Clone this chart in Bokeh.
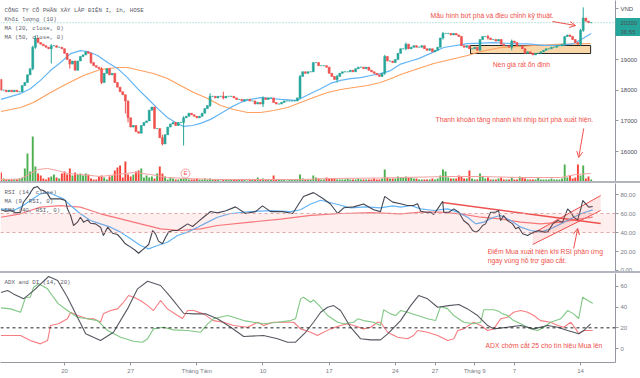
import numpy as np
from bokeh.plotting import figure
from bokeh.models import (Range1d, LinearAxis, FixedTicker, Span, BoxAnnotation,
                          Label, Arrow, OpenHead, ColumnDataSource, Div,
                          PolyAnnotation, NumeralTickFormatter, BasicTickFormatter)
from bokeh.layouts import column
from bokeh.embed import file_html
from bokeh.resources import INLINE
from bokeh.core.properties import value

# ---------------- data (hourly bars, index 0..223) ----------------
first_open = 18350
closes = [18000, 18000, 17950, 18000, 17950, 18000, 17950, 17950, 18150, 18250,
          18500, 18700, 19400, 19700, 19550, 19500, 19450, 19400, 19350, 19450,
          19450, 19400, 19400, 19350, 19200, 19000, 18850, 18950, 18650, 18950,
          19100, 19150, 19250, 19200, 18900, 18800, 18750, 18700, 18250, 18550,
          18700, 18500, 18550, 18250, 18100, 17950, 17850, 17650, 17100, 16800,
          16850, 16650, 16600, 16850, 16950, 17000, 17350, 17450, 16750, 16750,
          16450, 16250, 16550, 16800, 16900, 16950, 16850, 16950, 16950, 17100,
          17150, 17250, 17200, 17150, 17100, 17150, 17250, 17400, 17500, 17800,
          17800, 17750, 17800, 17800, 17750, 17800, 17800, 17800, 17750, 17700,
          17700, 17650, 17700, 17700, 17650, 17650, 17550, 17600, 17550, 17750,
          17700, 17750, 17750, 17600, 17550, 17550, 17600, 17650, 17650, 17650,
          17650, 17650, 17750, 18450, 18600, 18550, 18600, 18600, 18900, 18900,
          18800, 18800, 18800, 18750, 18550, 18450, 18350, 18450, 18550, 18600,
          18600, 18600, 18650, 18600, 18700, 18750, 18750, 18700, 18750, 18650,
          18600, 18550, 18500, 18450, 18550, 19100, 18950, 18950, 18900, 19000,
          19200, 19350, 19350, 19500, 19350, 19400, 19450, 19400, 19400, 19450,
          19350, 19300, 19350, 19250, 19300, 19400, 19700, 19850, 19850, 19850,
          19800, 19850, 19800, 19750, 19450, 19400, 19450, 19350, 19350, 19400,
          19300, 19650, 19750, 19750, 19700, 19650, 19650, 19600, 19650, 19500,
          19450, 19450, 19400, 19600, 19550, 19450, 19450, 19350, 19200, 19250,
          19200, 19150, 19200, 19200, 19250, 19300, 19350, 19350, 19400, 19400,
          19450, 19450, 19500, 19750, 19800, 19750, 19650, 19550, 19500, 19950,
          20350, 20250, 20200, 20200]
# notable wicks: bar -> (high, low)
wicks = {12: (19450, 18650), 13: (19780, 19350), 19: (19500, 18870), 26: (19000, 18700),
         34: (19230, 18850), 38: (18750, 18200), 47: (17850, 17240), 48: (17650, 16950),
         61: (16550, 16200), 69: (17150, 16200), 79: (17900, 17450), 84: (17950, 17700),
         99: (17800, 17450), 113: (18500, 17700), 127: (18500, 18250), 145: (19150, 18500),
         153: (19550, 19300), 167: (19900, 19650), 184: (19800, 19650), 193: (19650, 19300),
         219: (20000, 19450), 220: (20700, 19900)}
volumes = [90, 30, 20, 20, 20, 20, 20, 30, 40, 130, 280, 100, 450, 150, 80, 60, 30, 20, 40, 50,
           70, 40, 30, 80, 100, 70, 130, 60, 90, 70, 80, 60, 80, 70, 30, 20, 20, 50, 60, 40,
           20, 50, 60, 110, 140, 160, 40, 200, 70, 50, 70, 100, 110, 130, 40, 60, 40, 50, 30, 80,
           150, 80, 50, 20, 40, 30, 20, 20, 30, 30, 30, 20, 20, 20, 30, 20, 20, 30, 20, 30,
           20, 20, 20, 10, 20, 20, 20, 20, 20, 20, 20, 20, 20, 10, 20, 20, 20, 40, 20, 30,
           20, 20, 20, 60, 20, 20, 20, 20, 10, 20, 20, 20, 20, 70, 30, 20, 20, 20, 60, 40,
           30, 20, 20, 40, 30, 30, 30, 20, 20, 20, 20, 30, 20, 20, 20, 30, 20, 20, 20, 20,
           20, 30, 20, 20, 30, 120, 40, 30, 30, 30, 50, 40, 40, 50, 40, 40, 30, 30, 20, 20,
           20, 20, 20, 30, 20, 30, 60, 120, 100, 40, 30, 30, 30, 60, 50, 30, 30, 110, 30, 20,
           20, 80, 50, 30, 40, 20, 20, 20, 30, 40, 20, 20, 20, 40, 20, 20, 50, 40, 30, 20,
           20, 20, 20, 40, 20, 20, 20, 20, 30, 20, 20, 20, 30, 170, 40, 60, 30, 40, 170, 60,
           160, 30, 50, 20]
vol_ma = [(0, 20), (7.4, 25), (11.1, 80), (13.8, 120), (17.6, 130), (21.4, 110), (25.1, 80),
          (30, 70), (37.6, 50), (44, 70), (50.1, 90), (56.5, 70), (62.9, 40), (70.5, 30),
          (81.8, 20), (113.2, 20), (124.5, 30), (143.4, 35), (151, 40), (170, 50), (181.3, 50),
          (196.4, 40), (211.5, 40), (217.2, 70), (222.8, 80)]
ma20 = [(0, 17700), (7.4, 17890), (11.1, 18050), (14.9, 18320), (18.7, 18640), (22.5, 18900),
        (26.3, 19190), (30, 19290), (32.7, 19260), (36.5, 19130), (40.3, 18900), (44, 18710),
        (47.8, 18410), (51.6, 18050), (55.4, 17730), (59.2, 17400), (62.9, 17110), (66, 16950),
        (69, 16820), (72.4, 16850), (75.4, 16920), (79.2, 17050), (83, 17240), (86.8, 17440),
        (90.5, 17600), (94.3, 17700), (98.1, 17760), (101.9, 17730), (105.7, 17700), (111.3, 17670),
        (113.2, 17730), (117, 17890), (120.8, 18050), (124.5, 18220), (128.3, 18320), (132.1, 18380),
        (135.9, 18410), (139.7, 18480), (143.4, 18540), (147.2, 18640), (151, 18850), (154.8, 18950),
        (157.8, 19030), (167.3, 19390), (176.3, 19520), (186.2, 19550), (192.6, 19520), (199, 19510),
        (205.1, 19460), (211.5, 19460), (216.4, 19520), (220.2, 19700), (223, 19850)]
ma50 = [(0, 17306), (7.4, 17437), (12.3, 17600), (18.7, 17925), (25.1, 18218), (31.2, 18479),
        (37.6, 18674), (44, 18739), (47.8, 18739), (52.7, 18642), (57.6, 18544), (62.9, 18381),
        (67.8, 18153), (72.8, 17925), (78.1, 17730), (83, 17502), (87.9, 17372), (93.2, 17274),
        (98.1, 17274), (103, 17339), (108.3, 17437), (113.2, 17600), (118.1, 17762), (123.4, 17925),
        (128.3, 18023), (133.3, 18088), (138.5, 18153), (143.4, 18251), (148.4, 18414), (151, 18512),
        (157.8, 18707), (163.5, 18870), (176.3, 19130), (181.3, 19260), (188.8, 19390),
        (201.3, 19456), (210.4, 19490), (222.8, 19520)]
rsi = [(0, 63.9), (1.7, 62.4), (3.6, 63.2), (5.5, 60.7), (7.4, 61.4), (8.5, 71.9), (10.4, 78.9),
       (12.3, 87), (13.8, 88.4), (14.9, 85), (16.1, 84.2), (17.6, 80.7), (18.7, 75.4), (22.5, 75.4),
       (24.4, 73.7), (25.1, 64.9), (26.3, 57.9), (27.4, 47.4), (28.9, 50.9), (30, 56.1), (31.2, 50.9),
       (32.7, 53.3), (33.8, 49.8), (35.7, 49.1), (37.6, 45.6), (38.7, 36.8), (40.3, 45.6), (42.1, 39.3),
       (44, 37.9), (45.2, 34.4), (47, 28.1), (49, 24.6), (50.8, 21.1), (52, 18.2), (53.9, 22.8),
       (55.8, 27.4), (57.3, 42.1), (58.4, 38.6), (59.5, 30.9), (61, 28.1), (62.2, 35.1), (63.3, 40.4),
       (64.8, 42.1), (66.7, 42.1), (68.6, 45.6), (70.5, 49.1), (72.4, 46.3), (74.3, 50.9), (76.5, 56.1),
       (79.2, 62.1), (81.8, 60.7), (85, 63), (88.6, 67), (92.4, 60), (96.2, 62), (98.8, 68),
       (101.9, 62), (106.4, 62), (110.2, 60), (112.5, 70), (114.3, 78), (118.1, 82), (121.5, 76),
       (124.5, 70), (127.2, 60), (129.5, 66), (133.3, 67), (137, 70), (140.8, 64), (143.4, 62),
       (145, 78), (148, 72), (151, 70.2), (153.6, 68.4), (155.9, 68.4), (157.4, 70.2), (158.6, 62.4),
       (160.5, 61.4), (162.3, 61.4), (163.5, 58.9), (165, 64.9), (166.9, 72.9), (167.3, 61.4),
       (169.2, 61.4), (171.1, 64.9), (173, 61.4), (174.8, 52.6), (176.7, 48.4), (178.2, 42.1),
       (179.4, 40.4), (180.5, 42.1), (182, 47.4), (183.1, 49.1), (185, 61.4), (186.9, 61.4),
       (188, 63.2), (188.8, 52.6), (189.9, 57.9), (191.4, 52.6), (193.3, 49.1), (194.5, 43.9),
       (195.6, 45.6), (197.1, 38.6), (199, 36.8), (200.1, 38.6), (201.3, 40.4), (203.2, 42.1),
       (205.1, 40.4), (206.6, 40.4), (208.5, 49.1), (210.4, 52.6), (212.2, 50.9), (214.1, 64.9),
       (215.3, 61.4), (216.4, 56.1), (217.9, 53.3), (219.1, 64.9), (219.8, 73.7), (221, 70.2),
       (222.1, 66.7), (223.6, 67.4)]
rsi_ma = [(0, 64.9), (4.7, 63.2), (7.4, 66.7), (11.1, 73.7), (14.9, 80.7), (17.6, 82.4), (20.6, 78.9),
          (23.6, 75.4), (26.3, 68.4), (30, 59.7), (33.8, 52.6), (37.6, 49.1), (41.4, 45.6), (45.2, 40.4),
          (49, 33.4), (52.7, 26.3), (55.8, 22.8), (59.2, 26.3), (62.9, 29.8), (66.7, 36.8), (70.5, 40.4),
          (74.3, 45.6), (78.1, 50.9), (81.8, 56.1), (86.8, 60), (94.3, 62), (101.9, 63), (109.4, 62),
          (113.2, 64), (117, 70), (120.8, 74), (126.5, 70), (132.1, 66), (137.8, 67), (143.4, 66),
          (148, 68), (151, 66.7), (154.8, 68.4), (158.6, 64.9), (163.5, 63.2), (168.8, 64.9),
          (172.6, 61.4), (176.3, 56.1), (179.4, 49.1), (182.4, 50.9), (186.2, 56.1), (188.8, 57.9),
          (192.6, 52.6), (196.4, 45.6), (200.1, 42.1), (203.9, 40.4), (207.7, 43.9), (211.5, 49.1),
          (215.3, 54.4), (219.1, 59.7), (223.6, 63.9)]
rsi_ema = [(0, 56.1), (7.4, 59.7), (14.9, 66.7), (22.5, 68.4), (30, 66.7), (37.6, 59.7), (45.2, 54.4),
           (52.7, 49.1), (60.3, 43.9), (67.8, 42.1), (75.4, 43.9), (81.8, 47.4), (94.3, 51), (105.7, 54),
           (117, 58), (128.3, 60), (139.7, 61), (151, 59.7), (158.6, 61.4), (166.1, 61.4), (173.7, 59.7),
           (181.3, 56.1), (188.8, 54.4), (196.4, 50.9), (203.9, 49.1), (211.5, 50.9), (219.1, 54.4),
           (223.6, 56.1)]
adx = [(0, 54.1), (2.5, 56), (4.7, 52.8), (8.5, 48), (12.3, 56), (18, 69.6), (21.4, 65.7), (25.1, 49.6),
       (28.9, 30.2), (32, 14.2), (37.6, 7.7), (42.5, 15.7), (47.8, 38.3), (51.6, 57.7), (55.4, 65),
       (60.3, 60.9), (64.1, 49.6), (69, 34.1), (72.8, 33.5), (77.3, 33.5), (81.8, 28.7), (86.8, 20.6),
       (91.7, 11.6), (99.2, 12.6), (104.5, 9.4), (108.3, 6.1), (111.3, 6.1), (115.1, 15.7), (118.1, 25.4),
       (120.8, 35.1), (123.4, 39.9), (125.7, 41.5), (128.3, 36.7), (132.1, 20.6), (135.9, 9.4),
       (139.7, 8.4), (143.4, 8.4), (146.1, 14.2), (151, 27), (154.8, 41.5), (157.8, 51.2), (161.2, 48),
       (165, 39.9), (169.2, 41.5), (173, 42.5), (176.3, 38.3), (180.1, 31.9), (183.9, 22.2), (186.2, 19),
       (191.4, 20.6), (196.4, 22.2), (201.3, 19), (206.6, 22.2), (210.4, 20.6), (214.1, 17.4),
       (218.3, 14.2), (220.2, 17.4), (222.8, 23.9)]
di_plus = [(0, 39.3), (3.6, 38.3), (7.4, 35.1), (9.3, 49.6), (11.1, 49.6), (12.3, 59.2), (14.2, 62.5),
           (17.6, 57.7), (19.8, 49.6), (21.7, 43.2), (25.1, 36.7), (28.9, 30.2), (32.7, 28.7), (36.5, 27),
           (40.3, 17.4), (45.2, 10.9), (50.1, 7.1), (53.5, 6.1), (55.4, 9.4), (57.6, 19), (61.4, 20.6),
           (65.2, 18), (70.5, 17.4), (75.4, 15.7), (78.1, 23.9), (80.3, 28.7), (85.6, 31.9), (87.9, 30.2),
           (91.7, 27), (95.4, 25.4), (99.2, 23.9), (104.5, 25.4), (109.4, 27), (111.3, 28.7), (113.2, 48),
           (114.3, 49.6), (117, 44.7), (118.1, 47), (120.8, 39.9), (123.4, 31.9), (127.2, 25.4),
           (129.5, 23.9), (133.3, 25.4), (134.8, 28.7), (137, 27), (140.8, 25.4), (143.4, 22.2),
           (144.6, 37.4), (147.2, 33.5), (149.1, 31.9), (151, 36.7), (153.6, 35.1), (157.4, 31.9),
           (161.2, 28.7), (164.2, 27), (166.1, 40.6), (168.8, 38.3), (171.1, 31.9), (174.8, 25.4),
           (178.6, 23.9), (181.3, 25.4), (182.4, 37.4), (186.2, 37.4), (188, 36), (189.6, 33.5),
           (191.4, 31.9), (193.7, 27), (196.4, 23.9), (200.1, 19), (202.8, 17.4), (205.1, 20.6),
           (207.7, 25.4), (211.5, 28.7), (214.1, 36.7), (216.4, 33.5), (218.3, 29), (219.8, 49.6),
           (221.7, 46.4), (223.6, 43.8)]
di_minus = [(0, 12.6), (3.6, 12.6), (7.4, 12.6), (11.1, 7.7), (14.9, 4.5), (17.6, 7.7), (18.7, 22.2),
            (21.7, 23.9), (25.1, 28.7), (26.3, 35.1), (28.9, 31.9), (32.7, 28.7), (35, 28.7), (37.6, 25.4),
            (38.7, 33.5), (41.4, 36.7), (44, 38.3), (46.3, 44.7), (48.2, 51.2), (50.1, 49.6), (52.7, 46.4),
            (55.4, 41.5), (57.6, 36.7), (60.3, 46.4), (62.9, 38.3), (66.7, 31.9), (68.6, 29), (70.5, 36.7),
            (72.8, 36.7), (76.5, 33.5), (80.3, 27), (84.1, 25.4), (87.9, 22.2), (93.2, 20.6), (97, 25.4),
            (99.2, 22.2), (103, 25.4), (106.8, 25.4), (110.6, 25.4), (113.2, 19), (117, 15.7),
            (119.6, 12.6), (120.8, 14.2), (124.5, 19), (128.3, 22.2), (131, 23.9), (133.3, 22.2),
            (137, 19), (139.7, 20.6), (142.3, 25.4), (143.4, 25.4), (146.1, 15.7), (149.9, 10.9),
            (153.6, 9.4), (155.9, 12.6), (157.4, 17.4), (161.2, 15.7), (165, 12.6), (168.8, 7.7),
            (171.1, 9.4), (172.6, 17.4), (174.8, 19), (178.6, 25.4), (181.3, 22.2), (183.9, 17.4),
            (186.2, 19), (188.8, 28.7), (191.4, 30.2), (193.7, 35.1), (196.4, 36.7), (199, 35.1),
            (201.3, 31.9), (203.9, 27), (207.7, 25.4), (210.4, 22.2), (212.6, 20.6), (215.3, 25.4),
            (217.2, 19), (218.3, 14.2), (220.2, 17.4), (223.6, 17.4)]
tick_bars = [24, 49, 74, 99, 124, 149, 164, 179, 194, 219]
tick_labels = ["20", "27", "Tháng Tám", "10", "17", "24", "27", "Tháng 9", "7", "14"]
price_ticks = [16000, 17000, 18000, 19000]
last_price = 20200
timer_text, timer_pos = "36:55", 19912
unit_text, unit_pos = "VND", 20661
base_box_bars = (177.4, 222.8)
base_box_prices = (19195, 19456)
rsi_trend = [(166.9, 71.6), (226.6, 49.5)]
rsi_chan_up = [(200.9, 38.9), (226.6, 78.9)]
rsi_chan_lo = [(200.9, 27.4), (226.6, 63.2)]

# ---------------- styling ----------------
GREEN, RED = "#26a69a", "#ef5350"
VGREEN, VRED = "#4caf50", "#f44336"
GREY = "#787b86"
AXIS = "#9598a1"
ANN = "#f0504a"
LEG_FONT = "Liberation Mono"
ANN_FONT = "Liberation Sans"
ANN_SIZE = "6.8px"

xr = Range1d(-0.19, 232.2)


def mkfig(h, yr, below=False):
    p = figure(frame_width=615, frame_height=h, x_range=xr, y_range=yr,
               output_backend="svg", toolbar_location=None,
               x_axis_location=("below" if below else None), y_axis_location="right",
               min_border_left=0, min_border_top=0, min_border_right=25,
               min_border_bottom=(16 if below else 0))
    p.grid.visible = False
    p.outline_line_color = None
    p.background_fill_color = "white"
    p.border_fill_color = "white"
    ya = p.yaxis[0]
    ya.axis_line_color = AXIS
    ya.major_tick_line_color = AXIS
    ya.major_tick_out = 3
    ya.major_tick_in = 0
    ya.minor_tick_line_color = None
    ya.major_label_text_font_size = "6px"
    ya.major_label_text_color = GREY
    ya.major_label_standoff = 2
    return p


def split(pts):
    return [a for a, b in pts], [b for a, b in pts]


# ---------------- pane 1: price + volume ----------------
p1 = mkfig(181, Range1d(15026, 20922))
ya1 = p1.yaxis[0]
ya1.ticker = FixedTicker(ticks=price_ticks + [timer_pos, last_price, unit_pos],
                         minor_ticks=[timer_pos, last_price])
ya1.formatter = BasicTickFormatter(use_scientific=False)
ya1.major_label_overrides = {last_price: str(last_price), timer_pos: timer_text,
                             unit_pos: unit_text}
# teal price / countdown tags on the price scale (minor ticks drawn as wide bars)
ya1.minor_tick_line_color = GREEN
ya1.minor_tick_line_width = 9
ya1.minor_tick_out = 25
ya1.minor_tick_in = 0
ya1.major_label_standoff = -20
ya1.major_label_text_color = "#4a4d57"
p1.extra_y_ranges = {"vol": Range1d(0, 1810)}

n = len(closes)
bars = list(range(n))
opens = [first_open] + closes[:-1]
highs = [max(o, c) for o, c in zip(opens, closes)]
lows = [min(o, c) for o, c in zip(opens, closes)]
for k, (hh, ll) in wicks.items():
    highs[k] = max(highs[k], hh)
    lows[k] = min(lows[k], ll)
up = [c >= o for o, c in zip(opens, closes)]
src = ColumnDataSource(dict(
    x=bars, h=highs, l=lows,
    top=[max(o, c) for o, c in zip(opens, closes)],
    bot=[min(o, c) for o, c in zip(opens, closes)],
    col=[GREEN if u else RED for u in up],
    vol=volumes, vcol=[VGREEN if u else VRED for u in up]))

p1.vbar(x="x", top="vol", bottom=0, width=0.72, y_range_name="vol",
        fill_color="vcol", line_color=None, source=src)
t, v = split(vol_ma)
p1.line(t, v, y_range_name="vol", line_color="#f4a0a0", line_width=1)

p1.quad(left=[base_box_bars[0]], right=[base_box_bars[1]],
        bottom=[base_box_prices[0]], top=[base_box_prices[1]],
        fill_color="#f7c98b", fill_alpha=0.75, line_color="#222222", line_width=1)

t, v = split(ma50)
p1.line(t, v, line_color="#ffa060", line_width=1.2)
t, v = split(ma20)
p1.line(t, v, line_color="#64b5f6", line_width=1.2)

p1.segment(x0="x", y0="h", x1="x", y1="l", line_color="col", line_width=1, source=src)
p1.vbar(x="x", top="top", bottom="bot", width=0.72, fill_color="col",
        line_color="col", line_width=0.6, source=src)

p1.add_layout(Span(location=last_price, dimension="width", line_color=GREEN,
                   line_alpha=0.6, line_width=1, line_dash="1 2"))

p1.scatter(x=[69.7], y=[15287], size=9, marker="circle", fill_color="white",
           line_color="#f4a0a0", line_width=1)
p1.text(x=[69.7], y=[15287], text=["E"], text_font_size="6px", text_color=RED,
        text_align="center", text_baseline="middle", text_font=value("Liberation Sans"))

for txt, yv in [("CÔNG TY CỔ PHẦN XÂY LẮP ĐIỆN I, 1h, HOSE", 20596),
                ("Khối lượng (10)", 20303), ("MA (20, close, 0)", 20010),
                ("MA (50, close, 0)", 19717)]:
    p1.add_layout(Label(x=4, y=yv, x_units="screen", text=txt, text_font=LEG_FONT,
                        text_font_size="5.8px", text_color="#5d606b", text_baseline="middle"))

p1.add_layout(Label(x=162.3, y=20433, text="Mẫu hình bứt phá và điều chỉnh kỹ thuật.",
                    text_font=ANN_FONT, text_font_size=ANN_SIZE, text_color=ANN,
                    text_baseline="middle"))
p1.add_layout(Label(x=185.8, y=18821, text="Nền giá rất ổn định", text_font=ANN_FONT,
                    text_font_size=ANN_SIZE, text_color=ANN, text_baseline="middle"))
p1.add_layout(Label(x=164.2, y=17030, text="Thanh khoản tăng nhanh khi nhịp bứt phá xuất hiện.",
                    text_font=ANN_FONT, text_font_size=ANN_SIZE, text_color=ANN,
                    text_baseline="middle"))
p1.add_layout(Arrow(end=OpenHead(size=6, line_color=ANN, line_width=1),
                    x_start=208.4, y_start=20238, x_end=217.1, y_end=20107,
                    line_color=ANN, line_width=1))
p1.add_layout(Arrow(end=OpenHead(size=6, line_color=ANN, line_width=1),
                    x_start=220.2, y_start=16753, x_end=218.3, y_end=15808,
                    line_color=ANN, line_width=1))

# ---------------- pane 2: RSI ----------------
p2 = mkfig(88, Range1d(-1.05, 91.6))
p2.yaxis.ticker = FixedTicker(ticks=[0, 20, 40, 60, 80])
p2.yaxis.formatter = NumeralTickFormatter(format="0.00")
p2.add_layout(BoxAnnotation(bottom=40, top=60, fill_color="#f44336", fill_alpha=0.09,
                            line_color=None))
for lv in (40, 60):
    p2.add_layout(Span(location=lv, dimension="width", line_color="#e0a8a8",
                       line_width=1, line_dash="3 3"))
cx = [rsi_chan_lo[0][0], rsi_chan_lo[1][0], rsi_chan_up[1][0], rsi_chan_up[0][0]]
cy = [rsi_chan_lo[0][1], rsi_chan_lo[1][1], rsi_chan_up[1][1], rsi_chan_up[0][1]]
p2.add_layout(PolyAnnotation(xs=cx, ys=cy, fill_color="#f44336", fill_alpha=0.12,
                             line_color=None))
for seg, w in [(rsi_chan_up, 1), (rsi_chan_lo, 1), (rsi_trend, 1.5)]:
    t, v = split(seg)
    p2.line(t, v, line_color=RED, line_width=w)
t, v = split(rsi_ema)
p2.line(t, v, line_color="#f77c80", line_width=1.2)
t, v = split(rsi_ma)
p2.line(t, v, line_color="#64b5f6", line_width=1.2)
t, v = split(rsi)
p2.line(t, v, line_color="#434651", line_width=1.1)
for txt, yv in [("RSI (14, close)", 82.1), ("MA (9, RSI, 0)", 72.6), ("EMA (40, RSI, 0)", 63.2)]:
    p2.add_layout(Label(x=4, y=yv, x_units="screen", text=txt, text_font=LEG_FONT,
                        text_font_size="5.8px", text_color="#5d606b", text_baseline="middle"))
p2.add_layout(Label(x=183.9, y=19.5, text="Điểm Mua xuất hiện khi RSI phản ứng",
                    text_font=ANN_FONT, text_font_size=ANN_SIZE, text_color=ANN,
                    text_baseline="middle"))
p2.add_layout(Label(x=183.9, y=11.0, text="ngay vùng hỗ trợ giao cắt.",
                    text_font=ANN_FONT, text_font_size=ANN_SIZE, text_color=ANN,
                    text_baseline="middle"))
p2.add_layout(Arrow(end=OpenHead(size=6, line_color=ANN, line_width=1),
                    x_start=216.4, y_start=23.2, x_end=217.9, y_end=44.2,
                    line_color=ANN, line_width=1))

# ---------------- pane 3: ADX / DI ----------------
p3 = mkfig(89, Range1d(-13.5, 72.5), below=True)
p3.yaxis.ticker = FixedTicker(ticks=[0, 20, 40, 60])
xa = p3.xaxis[0]
xa.ticker = FixedTicker(ticks=tick_bars)
xa.major_label_overrides = {b: s for b, s in zip(tick_bars, tick_labels)}
xa.axis_line_color = AXIS
xa.major_tick_line_color = AXIS
xa.major_tick_out = 3
xa.major_tick_in = 0
xa.minor_tick_line_color = None
xa.major_label_text_font_size = "6px"
xa.major_label_text_color = GREY
xa.major_label_standoff = 2
p3.add_layout(Span(location=20, dimension="width", line_color="#222222",
                   line_width=1, line_dash="3 3"))
t, v = split(di_minus)
p3.line(t, v, line_color="#f77c80", line_width=1.1)
t, v = split(di_plus)
p3.line(t, v, line_color="#81c784", line_width=1.1)
t, v = split(adx)
p3.line(t, v, line_color="#555861", line_width=1.1)
p3.add_layout(Label(x=4, y=63.75, x_units="screen", text="ADX and DI (14, 20)",
                    text_font=LEG_FONT, text_font_size="5.8px", text_color="#5d606b",
                    text_baseline="middle"))
p3.add_layout(Label(x=183.1, y=3.4, text="ADX chớm cắt 25 cho tín hiệu Mua lên",
                    text_font=ANN_FONT, text_font_size=ANN_SIZE, text_color=ANN,
                    text_baseline="middle"))


def sep():
    return Div(text="", width=640, height=2, margin=(0, 0, 0, 0),
               styles={"background-color": "#b2b5be", "overflow": "hidden"})


layout = column(p1, sep(), p2, sep(), p3, spacing=0)
open("out.html", "w").write(file_html(layout, INLINE))
